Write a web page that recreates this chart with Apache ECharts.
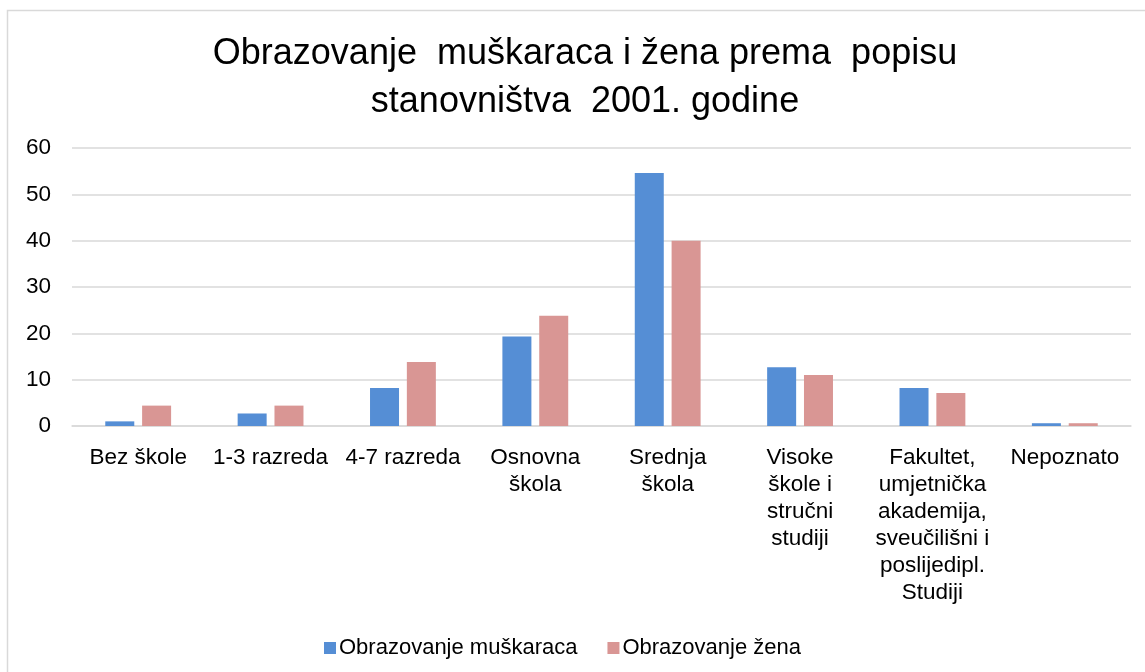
<!DOCTYPE html>
<html>
<head>
<meta charset="utf-8">
<script src="https://cdn.jsdelivr.net/npm/echarts@6/dist/echarts.min.js"></script>
<style>
  html, body { margin: 0; padding: 0; background: #fff; }
  #chart { width: 1145px; height: 672px; }
</style>
</head>
<body>
<div id="chart"></div>
<script>
// kategorije (s prijelomima redaka kao na slici)
const categories = [
  "Bez škole",
  "1-3 razreda",
  "4-7 razreda",
  "Osnovna\nškola",
  "Srednja\nškola",
  "Visoke\nškole i\nstručni\nstudiji",
  "Fakultet,\numjetnička\nakademija,\nsveučilišni i\nposlijedipl.\nStudiji",
  "Nepoznato"
];
const muskarci = [1.0, 2.7, 8.2, 19.3, 54.6, 12.7, 8.2, 0.6];
const zene = [4.4, 4.4, 13.8, 23.8, 40.0, 11.0, 7.1, 0.6];
const yTicks = [0, 10, 20, 30, 40, 50, 60];

const chart = echarts.init(document.getElementById("chart"));
chart.setOption({
  backgroundColor: "#fff",
  animation: false,
  textStyle: { fontFamily: "Liberation Sans, Arial, sans-serif", color: "#000" },
  // okvir grafikona
  graphic: [{
    type: "rect",
    shape: { x: 7.5, y: 10.5, width: 1200, height: 700 },
    style: { fill: "none", stroke: "#d9d9d9", lineWidth: 1.5 },
    silent: true
  }],
  title: {
    text: "Obrazovanje  muškaraca i žena prema  popisu\nstanovništva  2001. godine",
    left: 580,
    textAlign: "center",
    top: 25,
    textStyle: { fontSize: 36, fontWeight: "normal", lineHeight: 48, color: "#000" }
  },
  legend: {
    left: 319,
    top: 632,
    icon: "rect",
    itemWidth: 12,
    itemHeight: 12,
    itemGap: 30,
    textStyle: { fontSize: 22, color: "#000", padding: [0, 0, 0, -2] },
    data: ["Obrazovanje muškaraca", "Obrazovanje žena"]
  },
  grid: { left: 72, right: 14, top: 148, bottom: 246, containLabel: false },
  xAxis: {
    type: "category",
    data: categories,
    axisLine: { lineStyle: { color: "#d9d9d9", width: 1.5 } },
    axisTick: { show: false },
    axisLabel: { interval: 0, fontSize: 22.5, lineHeight: 27, margin: 18, color: "#000" }
  },
  yAxis: {
    type: "value",
    min: yTicks[0],
    max: yTicks[yTicks.length - 1],
    interval: 10,
    axisLine: { show: false },
    axisTick: { show: false },
    axisLabel: { fontSize: 22.5, margin: 21, color: "#000" },
    splitLine: { lineStyle: { color: "#d9d9d9", width: 1.5 } }
  },
  series: [
    {
      name: "Obrazovanje muškaraca",
      type: "bar",
      data: muskarci,
      barWidth: 29,
      barGap: "27%",
      itemStyle: { color: "#558ed5" }
    },
    {
      name: "Obrazovanje žena",
      type: "bar",
      data: zene,
      barWidth: 29,
      itemStyle: { color: "#d99694" }
    }
  ]
});
</script>
</body>
</html>
